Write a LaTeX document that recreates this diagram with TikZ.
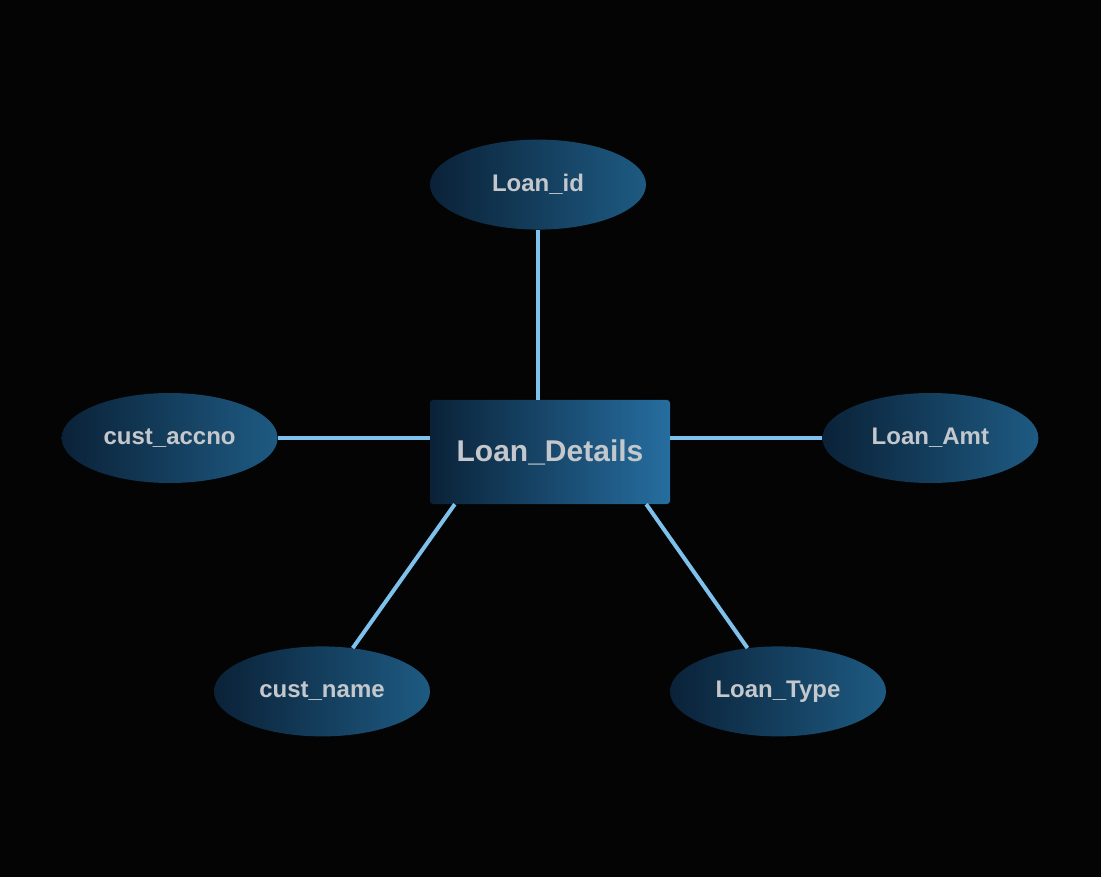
\documentclass[tikz,border=0pt]{standalone}
\usepackage{fontspec}
\setmainfont{Liberation Sans}
\usetikzlibrary{shapes.geometric,positioning}
\definecolor{bgblack}{RGB}{4,4,4}
\definecolor{deepnavy}{RGB}{10,34,56}
\definecolor{ovalblue}{RGB}{30,90,130}
\definecolor{boxblue}{RGB}{38,110,160}
\definecolor{linkblue}{RGB}{125,193,236}
\definecolor{labelgray}{RGB}{196,200,204}

\begin{document}
\begin{tikzpicture}[
        x=1pt, y=1pt,
        entity/.style={rectangle, rounded corners=3pt, minimum width=240pt, minimum height=104pt, inner sep=0pt,
            left color=deepnavy, right color=boxblue, text=labelgray, font=\fontsize{30}{34}\selectfont\bfseries},
        attr/.style={ellipse, minimum width=216pt, minimum height=90pt, inner sep=0pt,
            left color=deepnavy, right color=ovalblue, text=labelgray, font=\fontsize{24}{28}\selectfont\bfseries},
        link/.style={draw=linkblue, line width=4pt}
    ]
        \fill[bgblack] (0,0) rectangle (1101,-877);
        \useasboundingbox (0,0) rectangle (1101,-877);

        \node[entity] (details) at (550,-452) {Loan\_Details};

        % attributes
        \node[attr, above=170pt of details, xshift=-12pt] (loanid) {Loan\_id};
        \node[attr, left=152pt of details, yshift=14pt] (accno) {cust\_accno};
        \node[attr, right=152pt of details, yshift=14pt] (amt) {Loan\_Amt};
        \node[attr, below=142pt of details, xshift=-228pt] (name) {cust\_name};
        \node[attr, below=142pt of details, xshift=228pt] (type) {Loan\_Type};

        % links
        \draw[link] (loanid.south) -- (details.north -| loanid.south);
        \draw[link] (accno.east) -- (details.west |- accno.east);
        \draw[link] (details.east |- amt.west) -- (amt.west);
        \draw[link] ([xshift=25pt]details.south west) -- (name);
        \draw[link] ([xshift=-24pt]details.south east) -- (type);

    \end{tikzpicture}
\end{document}
